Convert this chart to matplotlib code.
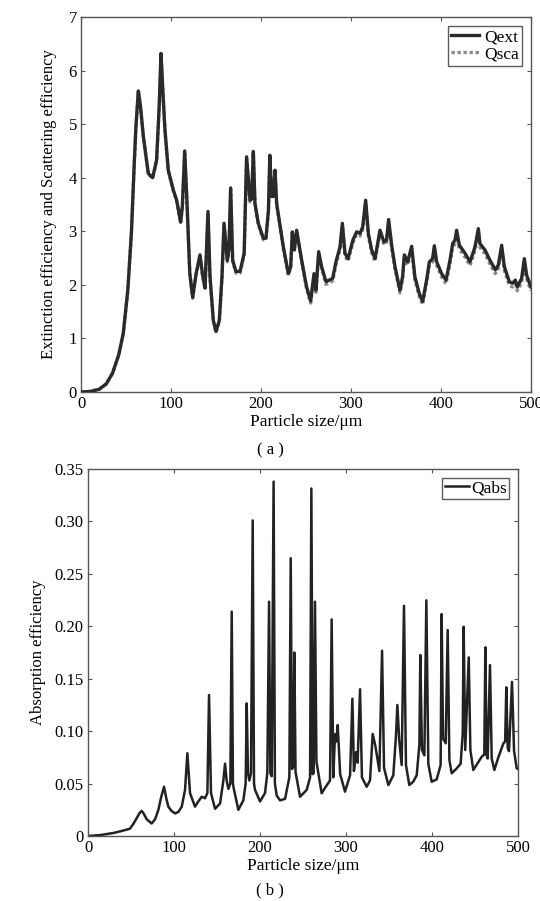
import numpy as np
import matplotlib
matplotlib.use("Agg")
import matplotlib.pyplot as plt

plt.rcParams['font.family'] = ['Liberation Serif', 'DejaVu Serif']

# (a) extinction / scattering efficiency vs particle size
size_a = [0, 10, 20, 28, 35, 42, 47, 52, 56, 59, 61, 63.7, 66, 69.3, 74.8, 79.6,
          84, 86.9, 88.9, 91, 93.3, 97, 102.6, 106.3, 110.7, 112.6, 115.2, 117.4,
          120.9, 124.1, 127.8, 132.2, 135, 137.8, 141.1, 143.3, 147, 150, 153.7,
          156.7, 158.9, 162.6, 164.4, 166.3, 168.5, 172.2, 176.7, 181.3, 184,
          187.8, 189.5, 191.5, 193.3, 197, 202.6, 205.5, 208.3, 209.8, 211.9,
          213.5, 215.6, 217.4, 224.8, 230.4, 233, 234.8, 237, 239.6, 245.2, 250.7,
          255.2, 258.9, 261.1, 264.1, 267.4, 272.2, 279.6, 283.3, 287.8, 290.4,
          293.3, 296.7, 302.2, 306.3, 310, 313, 316.3, 319.3, 323, 326.7, 332.2,
          336.7, 339.6, 341.8, 345.2, 348.9, 354.4, 357.3, 359.3, 363, 367.4, 371,
          375.9, 379.6, 384, 387.1, 390.7, 392.6, 395.2, 400.7, 405.6, 410, 413,
          415.6, 417.4, 420.4, 426.7, 432.2, 436.7, 438.5, 441.5, 443.3, 448.9,
          454.4, 460.4, 463.7, 467.4, 470.4, 475.9, 479.6, 482.6, 484.8, 489.6,
          492.6, 495.2, 500]
qext = [0, 0.01, 0.05, 0.15, 0.35, 0.70, 1.10, 1.90, 2.97, 4.20, 4.95, 5.62, 5.35,
        4.77, 4.08, 4.00, 4.33, 5.34, 6.32, 5.60, 4.89, 4.14, 3.77, 3.58, 3.17,
        3.46, 4.50, 3.69, 2.21, 1.77, 2.20, 2.56, 2.20, 1.94, 3.37, 2.17, 1.34,
        1.13, 1.34, 2.17, 3.15, 2.46, 2.68, 3.81, 2.46, 2.25, 2.25, 2.59, 4.39,
        3.58, 3.60, 4.49, 3.52, 3.15, 2.87, 2.87, 3.40, 4.42, 3.65, 3.65, 4.14,
        3.52, 2.71, 2.21, 2.34, 2.99, 2.65, 3.02, 2.46, 1.96, 1.70, 2.21, 1.90,
        2.62, 2.34, 2.06, 2.12, 2.43, 2.71, 3.15, 2.59, 2.49, 2.84, 2.99, 2.96,
        3.08, 3.58, 2.96, 2.65, 2.49, 3.02, 2.80, 2.84, 3.22, 2.74, 2.34, 1.90,
        2.15, 2.56, 2.43, 2.72, 2.15, 1.84, 1.69, 2.09, 2.43, 2.49, 2.73, 2.43,
        2.21, 2.09, 2.46, 2.77, 2.84, 3.02, 2.74, 2.59, 2.43, 2.65, 2.77, 3.05,
        2.77, 2.65, 2.46, 2.28, 2.37, 2.74, 2.34, 2.06, 2.03, 2.09, 1.96, 2.12,
        2.49, 2.18, 1.96]
qsca = [0, 0.01, 0.05, 0.15, 0.35, 0.69, 1.09, 1.89, 2.96, 4.19, 4.94, 5.61, 5.34,
        4.76, 4.07, 3.99, 4.31, 5.32, 6.30, 5.58, 4.87, 4.12, 3.75, 3.56, 3.15,
        3.44, 4.48, 3.67, 2.19, 1.75, 2.18, 2.54, 2.18, 1.92, 3.35, 2.15, 1.32,
        1.11, 1.32, 2.15, 3.13, 2.43, 2.65, 3.78, 2.43, 2.22, 2.22, 2.56, 4.36,
        3.55, 3.57, 4.46, 3.49, 3.12, 2.84, 2.84, 3.37, 4.39, 3.62, 3.62, 4.11,
        3.49, 2.68, 2.18, 2.31, 2.96, 2.62, 2.99, 2.43, 1.92, 1.66, 2.17, 1.86,
        2.58, 2.30, 2.01, 2.07, 2.38, 2.66, 3.10, 2.54, 2.44, 2.79, 2.94, 2.91,
        3.03, 3.53, 2.91, 2.60, 2.44, 2.97, 2.75, 2.79, 3.17, 2.69, 2.29, 1.85,
        2.10, 2.50, 2.37, 2.66, 2.09, 1.78, 1.63, 2.03, 2.37, 2.43, 2.67, 2.37,
        2.15, 2.02, 2.39, 2.70, 2.77, 2.95, 2.67, 2.52, 2.36, 2.58, 2.70, 2.98,
        2.70, 2.58, 2.39, 2.21, 2.30, 2.67, 2.27, 1.99, 1.96, 2.02, 1.89, 2.05,
        2.42, 2.11, 1.89]

# (b) absorption efficiency vs particle size
size_b = [0, 15, 30, 40, 48.8, 53, 56.6, 60, 62.4, 65, 68.2, 74, 78, 81.8, 85, 88.4,
          91, 93.4, 97, 101.2, 105, 109, 112.8, 115.5, 118.6, 124.4, 128.3, 132.2,
          136, 138.8, 140.7, 143, 147.7, 153.5, 157.4, 159.3, 161.2, 163.2, 165.5,
          167.1, 168.5, 169.8, 174.8, 180.6, 183.3, 184.5, 186, 187.6, 189.5, 191.5,
          193, 194.2, 200, 205.8, 208.5, 210.5, 212, 213.6, 215.8, 217.3, 219.4,
          223.3, 229.1, 234.1, 235.7, 237.2, 238.6, 239.9, 241.3, 246.5, 254.3,
          258.2, 259.7, 261.2, 262.4, 263.9, 265.6, 271.7, 275.6, 281.4, 283.3,
          285.2, 287.2, 288.5, 290.3, 293.2, 298.8, 304.7, 307.4, 309.2, 311.6,
          313.5, 316.3, 318.5, 324, 327.9, 331, 334.1, 338.8, 341.9, 344.2, 349.2,
          355, 358.1, 359.7, 361.9, 364.7, 367.4, 369.7, 373.6, 378.3, 382.2, 385.3,
          386.4, 388.3, 391.1, 393.4, 395.7, 399.6, 405.4, 410, 411.2, 412.8, 415.9,
          418.2, 420.2, 422.9, 428.7, 433.3, 435.7, 436.8, 438.6, 442.7, 444.6, 448,
          452.7, 457.7, 460.8, 462, 463.4, 464.7, 467.4, 469.4, 472.5, 477.1, 483,
          485, 486.4, 488, 489.5, 493, 495.4, 498.5, 502]
qabs = [0, 0.001, 0.003, 0.005, 0.007, 0.012, 0.017, 0.022, 0.024, 0.021, 0.016,
        0.012, 0.016, 0.025, 0.037, 0.047, 0.036, 0.028, 0.024, 0.0216, 0.023,
        0.028, 0.044, 0.079, 0.041, 0.028, 0.033, 0.0375, 0.036, 0.041, 0.1345,
        0.041, 0.026, 0.031, 0.053, 0.069, 0.053, 0.045, 0.05, 0.214, 0.05, 0.044,
        0.025, 0.034, 0.05, 0.1265, 0.06, 0.053, 0.06, 0.301, 0.05, 0.044, 0.033,
        0.041, 0.06, 0.2235, 0.06, 0.057, 0.338, 0.05, 0.0386, 0.034, 0.0355,
        0.056, 0.265, 0.064, 0.066, 0.175, 0.061, 0.0375, 0.044, 0.056, 0.3315,
        0.059, 0.06, 0.2235, 0.071, 0.0407, 0.046, 0.053, 0.2066, 0.056, 0.097,
        0.09, 0.1059, 0.059, 0.0423, 0.058, 0.131, 0.062, 0.08, 0.07, 0.14, 0.056,
        0.047, 0.053, 0.0973, 0.086, 0.062, 0.1767, 0.065, 0.0486, 0.058, 0.096,
        0.125, 0.091, 0.0677, 0.2196, 0.0677, 0.0486, 0.052, 0.058, 0.087, 0.1726,
        0.082, 0.077, 0.2248, 0.0687, 0.0518, 0.054, 0.0677, 0.2117, 0.093,
        0.0885, 0.1965, 0.0725, 0.0598, 0.0645, 0.069, 0.0979, 0.1996, 0.082,
        0.1704, 0.082, 0.063, 0.069, 0.0755, 0.078, 0.18, 0.077, 0.074, 0.163,
        0.074, 0.063, 0.075, 0.0884, 0.09, 0.1418, 0.084, 0.081, 0.147, 0.081,
        0.0646, 0.063]

x_ticks = [0, 100, 200, 300, 400, 500]

fig = plt.figure(figsize=(5.4, 9.01), dpi=100)

# top panel
ax1 = fig.add_axes([0.150, 0.5649, 0.8333, 0.4162])
# scattering drawn first so it only peeks out under the extinction curve
l_sca, = ax1.plot(size_a, qsca, color='#8a8a8a', lw=2.4, ls=(0, (1, 0.8)),
                  label='Qsca', zorder=2)
l_ext, = ax1.plot(size_a, qext, color='#2a2a2a', lw=2.4, label='Qext',
                  solid_joinstyle='round', zorder=3)
ax1.set_xlim(0, 500)
ax1.set_ylim(0, 7)
ax1.set_xticks(x_ticks)
ax1.set_yticks(range(0, 8))
ax1.set_xlabel('Particle size/μm', fontsize=12.5, labelpad=1)
ax1.set_ylabel('Extinction efficiency and Scattering efficiency', fontsize=12, labelpad=8)
leg1 = ax1.legend([l_ext, l_sca], ['Qext', 'Qsca'], loc='upper right',
                  fontsize=12.5, frameon=True, fancybox=False,
                  handlelength=1.6, handletextpad=0.3, borderpad=0.2,
                  labelspacing=0.05, borderaxespad=0.5)
leg1.get_frame().set_edgecolor('#333333')
leg1.get_frame().set_linewidth(1.0)

# bottom panel
ax2 = fig.add_axes([0.163, 0.0721, 0.7963, 0.4073])
ax2.plot(size_b, qabs, color='#222222', lw=1.8, label='Qabs')
ax2.set_xlim(0, 500)
ax2.set_ylim(0, 0.35)
ax2.set_xticks(x_ticks)
ax2.set_yticks([0, 0.05, 0.10, 0.15, 0.20, 0.25, 0.30, 0.35])
ax2.set_yticklabels(['0', '0.05', '0.10', '0.15', '0.20', '0.25', '0.30', '0.35'])
ax2.set_xlabel('Particle size/μm', fontsize=12.5, labelpad=1)
ax2.set_ylabel('Absorption efficiency', fontsize=12, labelpad=6)
leg2 = ax2.legend(loc='upper right', fontsize=12.5, frameon=True, fancybox=False,
                  handlelength=1.4, handletextpad=0.1, borderpad=0.15,
                  borderaxespad=0.5)
leg2.get_frame().set_edgecolor('#333333')
leg2.get_frame().set_linewidth(1.0)

for ax in (ax1, ax2):
    ax.tick_params(direction='in', top=True, right=True, length=3,
                   labelsize=12, color='#555555', pad=3)
    for s in ax.spines.values():
        s.set_color('#555555')
        s.set_linewidth(1.0)

fig.text(0.5, 0.5005, '( a )', ha='center', va='center', fontsize=12)
fig.text(0.5, 0.0122, '( b )', ha='center', va='center', fontsize=12)

fig.savefig('out.png', dpi=100)
